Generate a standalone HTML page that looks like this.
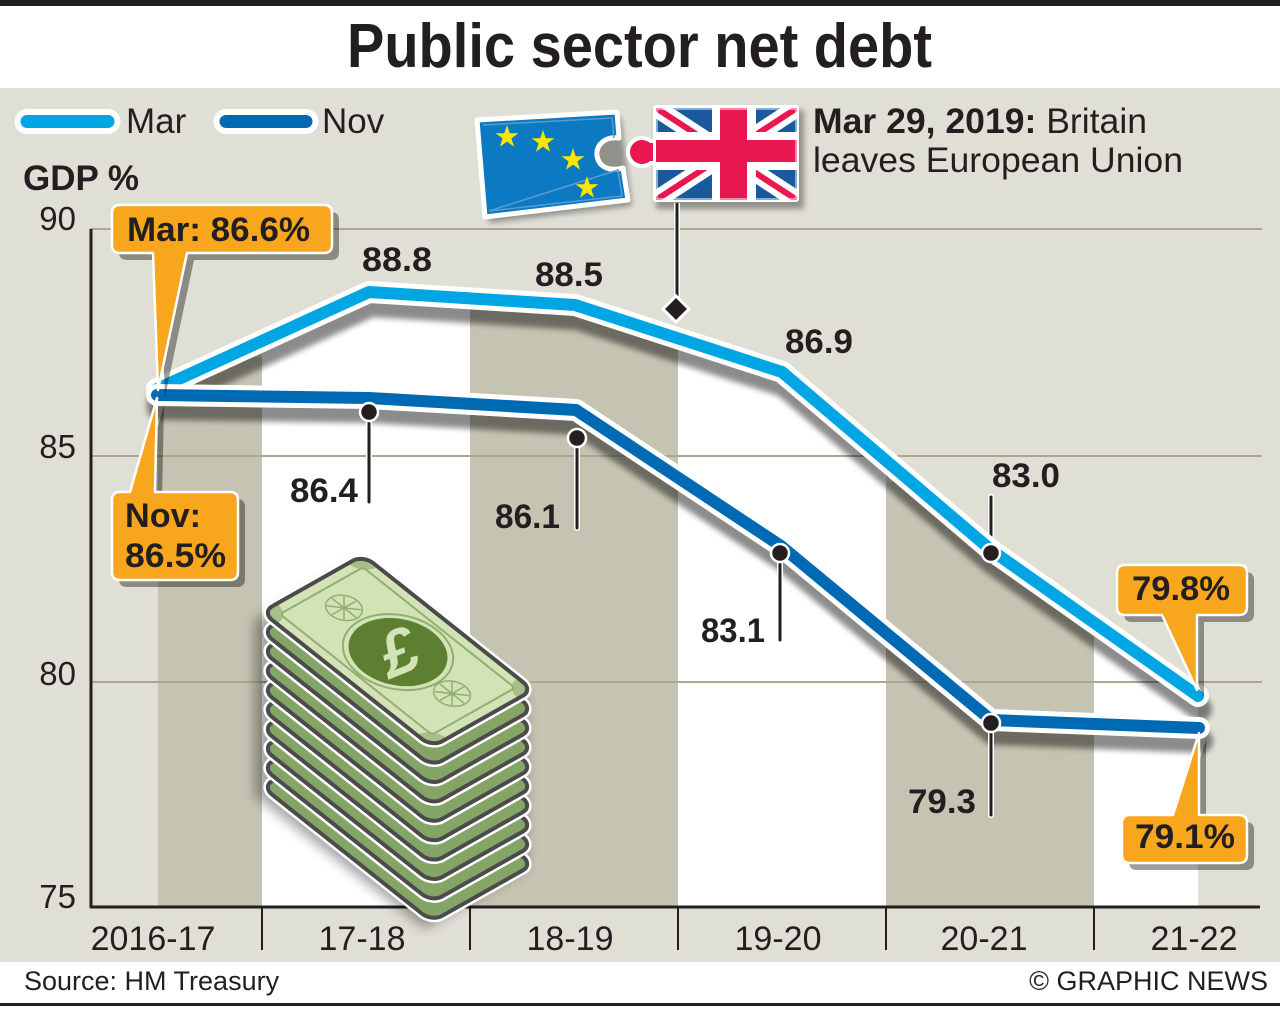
<!DOCTYPE html>
<html><head><meta charset="utf-8"><style>
html,body{margin:0;padding:0;background:#fff;}
svg{display:block;}
text{font-family:"Liberation Sans",Arial,sans-serif;fill:#231f20;}
.b{font-weight:bold;}
</style></head><body>
<svg width="1280" height="1016" viewBox="0 0 1280 1016" xmlns="http://www.w3.org/2000/svg">
<defs>
 <filter id="blur" x="-20%" y="-20%" width="140%" height="160%"><feGaussianBlur stdDeviation="3"/></filter>
 <filter id="blur6" x="-30%" y="-30%" width="160%" height="160%"><feGaussianBlur stdDeviation="6"/></filter>
 <clipPath id="under"><path d="M157,388 L369,292 L575,305 L782,372 L991,550 L1198,696 L1198,907 L157,907 Z"/></clipPath>
 <clipPath id="ukclip"><rect x="656" y="108" width="141" height="92"/></clipPath>
 <clipPath id="billclip"><rect x="0" y="0" width="170" height="101" rx="10"/></clipPath>
 <polygon id="star" points="0,-12 2.7,-3.72 11.41,-3.71 4.37,1.42 7.05,9.71 0,4.6 -7.05,9.71 -4.37,1.42 -11.41,-3.71 -2.7,-3.72" fill="#ffe600"/>
</defs>

<rect width="1280" height="1016" fill="#fff"/>
<rect x="0" y="0" width="1280" height="6" fill="#231f20"/>
<text x="347" y="67" class="b" font-size="62" textLength="585" lengthAdjust="spacingAndGlyphs">Public sector net debt</text>

<rect x="0" y="88" width="1280" height="874" fill="#e0dfd6"/>

<!-- bands -->
<g clip-path="url(#under)">
 <rect x="158" y="357" width="104" height="550" fill="#c5c3b1"/>
 <rect x="262" y="200" width="208" height="707" fill="#fff"/>
 <rect x="470" y="200" width="208" height="707" fill="#c5c3b1"/>
 <rect x="678" y="200" width="208" height="707" fill="#fff"/>
 <rect x="886" y="482" width="208" height="425" fill="#c5c3b1"/>
 <rect x="1094" y="200" width="104" height="707" fill="#fff"/>
</g>

<!-- gridlines -->
<g stroke="#a8a890" stroke-width="2">
 <line x1="90" y1="229" x2="1262" y2="229"/>
 <line x1="90" y1="456" x2="1262" y2="456"/>
 <line x1="90" y1="682" x2="1262" y2="682"/>
</g>

<!-- axes -->
<g stroke="#231f20">
 <line x1="91" y1="229" x2="91" y2="908" stroke-width="3"/>
 <line x1="90" y1="907" x2="1260" y2="907" stroke-width="3"/>
 <line x1="262" y1="907" x2="262" y2="950" stroke-width="2"/>
 <line x1="470" y1="907" x2="470" y2="950" stroke-width="2"/>
 <line x1="678" y1="907" x2="678" y2="950" stroke-width="2"/>
 <line x1="886" y1="907" x2="886" y2="950" stroke-width="2"/>
 <line x1="1094" y1="907" x2="1094" y2="950" stroke-width="2"/>
</g>

<!-- y labels -->
<g font-size="33" text-anchor="end">
 <text x="76" y="230">90</text>
 <text x="76" y="458">85</text>
 <text x="76" y="685">80</text>
 <text x="76" y="908">75</text>
</g>
<!-- x labels -->
<g font-size="34" text-anchor="middle">
 <text x="153" y="950">2016-17</text>
 <text x="362" y="950">17-18</text>
 <text x="570" y="950">18-19</text>
 <text x="778" y="950">19-20</text>
 <text x="984" y="950">20-21</text>
 <text x="1194" y="950">21-22</text>
</g>

<!-- legend -->
<line x1="27" y1="121.5" x2="108" y2="121.5" stroke="#fff" stroke-width="25" stroke-linecap="round"/>
<line x1="27" y1="121.5" x2="108" y2="121.5" stroke="#00a6e4" stroke-width="13" stroke-linecap="round"/>
<text x="126" y="133" font-size="35">Mar</text>
<line x1="226" y1="121.5" x2="306" y2="121.5" stroke="#fff" stroke-width="25" stroke-linecap="round"/>
<line x1="226" y1="121.5" x2="306" y2="121.5" stroke="#0069b4" stroke-width="13" stroke-linecap="round"/>
<text x="322" y="133" font-size="35">Nov</text>
<text x="23" y="190" font-size="35" class="b">GDP %</text>

<!-- Brexit note -->
<text x="813" y="133" font-size="35" textLength="334" lengthAdjust="spacingAndGlyphs"><tspan font-weight="bold">Mar 29, 2019:</tspan> Britain</text>
<text x="813" y="172" font-size="35" textLength="370" lengthAdjust="spacingAndGlyphs">leaves European Union</text>

<!-- flags shadow -->
<g filter="url(#blur)" opacity="0.35" transform="translate(4,6)">
 <polygon points="477,120 617,112 628,200 485,217" fill="#000"/>
 <rect x="652" y="104" width="148" height="99" fill="#000"/>
</g>
<!-- EU piece -->
<path d="M477,120 L617,112 L619,138 C605,136 596,145 597,155 C598,166 608,172 623,168 L628,200 L485,217 Z" fill="#0b7ac2" stroke="#fff" stroke-width="5" stroke-linejoin="round"/>
<path d="M483,125 L612,118 L614,138 M618,170 L622,196 L489,211 Z" fill="none" stroke="#5a9ad0" stroke-width="1.5"/>
<use href="#star" x="507" y="137"/>
<use href="#star" x="543" y="142"/>
<use href="#star" x="573" y="160"/>
<use href="#star" x="587" y="188"/>
<!-- UK piece -->
<circle cx="642" cy="152" r="14" fill="#e8174f" stroke="#fff" stroke-width="4"/>
<rect x="640" y="143" width="18" height="18" fill="#e8174f"/>
<rect x="653" y="105" width="146" height="97" rx="3" fill="#fff"/>
<g clip-path="url(#ukclip)">
 <rect x="656" y="108" width="141" height="92" fill="#1a5a9c"/>
 <line x1="656" y1="108" x2="797" y2="200" stroke="#fff" stroke-width="18"/>
 <line x1="797" y1="108" x2="656" y2="200" stroke="#fff" stroke-width="18"/>
 <line x1="656" y1="108" x2="797" y2="200" stroke="#e8174f" stroke-width="6"/>
 <line x1="797" y1="108" x2="656" y2="200" stroke="#e8174f" stroke-width="6"/>
 <rect x="712" y="108" width="44" height="92" fill="#fff"/>
 <rect x="656" y="132" width="141" height="38" fill="#fff"/>
 <rect x="720" y="108" width="27" height="92" fill="#e8174f"/>
 <rect x="656" y="140" width="141" height="22" fill="#e8174f"/>
 <rect x="656" y="108" width="141" height="92" fill="none" stroke="#ffffff" stroke-opacity="0.5" stroke-width="4"/>
</g>
<rect x="656" y="140" width="4" height="22" fill="#e8174f"/>

<!-- Brexit leader -->
<line x1="677" y1="203" x2="677" y2="300" stroke="#fff" stroke-width="6"/>
<line x1="677" y1="203" x2="677" y2="300" stroke="#231f20" stroke-width="3"/>
<polygon points="676,296 689,309 676,322 663,309" fill="#231f20" stroke="#fff" stroke-width="3"/>

<!-- money stack -->
<polygon points="262,612 363,555 533,690 533,860 432,921 262,788" fill="#000" opacity="0.35" filter="url(#blur6)" transform="translate(-7,8)"/>
<g id="stack">
 <g transform="translate(0,174.6)"><g transform="matrix(1,0.794,1,-0.564,262,612)"><rect width="170" height="101" rx="10" fill="none" stroke="#fff" stroke-width="9" vector-effect="non-scaling-stroke"/><rect width="170" height="101" rx="10" fill="#84a566" stroke="#4b4b4b" stroke-width="4" vector-effect="non-scaling-stroke"/></g></g>
 <g transform="translate(0,155.2)"><g transform="matrix(1,0.794,1,-0.564,262,612)"><rect width="170" height="101" rx="10" fill="none" stroke="#fff" stroke-width="9" vector-effect="non-scaling-stroke"/><rect width="170" height="101" rx="10" fill="#84a566" stroke="#4b4b4b" stroke-width="4" vector-effect="non-scaling-stroke"/></g></g>
 <g transform="translate(0,135.8)"><g transform="matrix(1,0.794,1,-0.564,262,612)"><rect width="170" height="101" rx="10" fill="none" stroke="#fff" stroke-width="9" vector-effect="non-scaling-stroke"/><rect width="170" height="101" rx="10" fill="#84a566" stroke="#4b4b4b" stroke-width="4" vector-effect="non-scaling-stroke"/></g></g>
 <g transform="translate(0,116.4)"><g transform="matrix(1,0.794,1,-0.564,262,612)"><rect width="170" height="101" rx="10" fill="none" stroke="#fff" stroke-width="9" vector-effect="non-scaling-stroke"/><rect width="170" height="101" rx="10" fill="#84a566" stroke="#4b4b4b" stroke-width="4" vector-effect="non-scaling-stroke"/></g></g>
 <g transform="translate(0,97)"><g transform="matrix(1,0.794,1,-0.564,262,612)"><rect width="170" height="101" rx="10" fill="none" stroke="#fff" stroke-width="9" vector-effect="non-scaling-stroke"/><rect width="170" height="101" rx="10" fill="#84a566" stroke="#4b4b4b" stroke-width="4" vector-effect="non-scaling-stroke"/></g></g>
 <g transform="translate(0,77.6)"><g transform="matrix(1,0.794,1,-0.564,262,612)"><rect width="170" height="101" rx="10" fill="none" stroke="#fff" stroke-width="9" vector-effect="non-scaling-stroke"/><rect width="170" height="101" rx="10" fill="#84a566" stroke="#4b4b4b" stroke-width="4" vector-effect="non-scaling-stroke"/></g></g>
 <g transform="translate(0,58.2)"><g transform="matrix(1,0.794,1,-0.564,262,612)"><rect width="170" height="101" rx="10" fill="none" stroke="#fff" stroke-width="9" vector-effect="non-scaling-stroke"/><rect width="170" height="101" rx="10" fill="#84a566" stroke="#4b4b4b" stroke-width="4" vector-effect="non-scaling-stroke"/></g></g>
 <g transform="translate(0,38.8)"><g transform="matrix(1,0.794,1,-0.564,262,612)"><rect width="170" height="101" rx="10" fill="none" stroke="#fff" stroke-width="9" vector-effect="non-scaling-stroke"/><rect width="170" height="101" rx="10" fill="#84a566" stroke="#4b4b4b" stroke-width="4" vector-effect="non-scaling-stroke"/></g></g>
 <g transform="translate(0,19.4)"><g transform="matrix(1,0.794,1,-0.564,262,612)"><rect width="170" height="101" rx="10" fill="none" stroke="#fff" stroke-width="9" vector-effect="non-scaling-stroke"/><rect width="170" height="101" rx="10" fill="#84a566" stroke="#4b4b4b" stroke-width="4" vector-effect="non-scaling-stroke"/></g></g>
 <!-- top bill -->
 <g transform="matrix(1,0.794,1,-0.564,262,612)">
  <rect width="170" height="101" rx="10" fill="none" stroke="#fff" stroke-width="9" vector-effect="non-scaling-stroke"/>
  <rect width="170" height="101" rx="10" fill="#d4e3b6"/>
  <g clip-path="url(#billclip)">
   <circle cx="0" cy="0" r="15" fill="#a7bf88"/>
   <circle cx="170" cy="0" r="15" fill="#a7bf88"/>
   <circle cx="0" cy="101" r="15" fill="#a7bf88"/>
   <circle cx="170" cy="101" r="15" fill="#a7bf88"/>
  </g>
  <rect x="9" y="9" width="152" height="83" rx="3" fill="none" stroke="#8fb070" stroke-width="2" vector-effect="non-scaling-stroke"/>
  <circle cx="86" cy="50" r="39" fill="none" stroke="#8fb070" stroke-width="2" vector-effect="non-scaling-stroke"/>
  <circle cx="86" cy="50" r="35" fill="#5c7f31"/>
  <g stroke="#8fb070" stroke-width="1.5" fill="none" vector-effect="non-scaling-stroke">
   <circle cx="31" cy="51" r="13" vector-effect="non-scaling-stroke"/>
   <circle cx="139" cy="51" r="13" vector-effect="non-scaling-stroke"/>
   <path d="M19,51 H43 M31,39 V63 M22.5,42.5 L39.5,59.5 M39.5,42.5 L22.5,59.5 M127,51 H151 M139,39 V63 M130.5,42.5 L147.5,59.5 M147.5,42.5 L130.5,59.5" vector-effect="non-scaling-stroke"/>
  </g>
  <rect width="170" height="101" rx="10" fill="none" stroke="#4b4b4b" stroke-width="4" vector-effect="non-scaling-stroke"/>
 </g>
 <text x="398" y="674" font-size="64" font-style="italic" font-weight="bold" text-anchor="middle" fill="#d4e3b6" style="fill:#d4e3b6" transform="rotate(-22 398 652)">£</text>
</g>

<!-- line shadows -->
<g filter="url(#blur)" opacity="0.45" transform="translate(2,13)" fill="none" stroke="#000" stroke-width="24" stroke-linejoin="round" stroke-linecap="round">
 <path d="M157,389 L369,292 L575,305 L782,372 L991,550 L1198,696"/>
 <path d="M157,395 L369,398 L576,410 L781,546 L991,720 L1199,728"/>
</g>

<!-- leaders (below lines) -->
<g stroke-linecap="round">
 <g stroke="#fff" stroke-width="6">
  <line x1="369" y1="412" x2="369" y2="502"/>
  <line x1="577" y1="438" x2="577" y2="528"/>
  <line x1="780" y1="553" x2="780" y2="640"/>
  <line x1="991" y1="723" x2="991" y2="815"/>
  <line x1="991" y1="553" x2="991" y2="497"/>
 </g>
 <g stroke="#231f20" stroke-width="3">
  <line x1="369" y1="412" x2="369" y2="502"/>
  <line x1="577" y1="438" x2="577" y2="528"/>
  <line x1="780" y1="553" x2="780" y2="640"/>
  <line x1="991" y1="723" x2="991" y2="815"/>
  <line x1="991" y1="553" x2="991" y2="497"/>
 </g>
</g>

<!-- Mar line -->
<path d="M157,389 L369,292 L575,305 L782,372 L991,550 L1198,696" fill="none" stroke="#fff" stroke-width="22" stroke-linejoin="round" stroke-linecap="round"/>
<path d="M157,389 L369,292 L575,305 L782,372 L991,550 L1198,696" fill="none" stroke="#00a6e4" stroke-width="12" stroke-linejoin="round" stroke-linecap="round"/>
<!-- Nov line -->
<path d="M157,395 L369,398 L576,410 L781,546 L991,720 L1199,728" fill="none" stroke="#fff" stroke-width="22" stroke-linejoin="round" stroke-linecap="round"/>
<path d="M157,395 L369,398 L576,410 L781,546 L991,720 L1199,728" fill="none" stroke="#0069b4" stroke-width="12" stroke-linejoin="round" stroke-linecap="round"/>

<!-- dots -->
<g fill="#231f20" stroke="#fff" stroke-width="2.5">
 <circle cx="369" cy="412" r="9"/>
 <circle cx="577" cy="438" r="9"/>
 <circle cx="780" cy="553" r="9"/>
 <circle cx="991" cy="723" r="9"/>
 <circle cx="991" cy="553" r="9"/>
</g>

<!-- data labels -->
<g font-size="34" font-weight="bold">
 <text x="362" y="271" textLength="70" lengthAdjust="spacingAndGlyphs">88.8</text>
 <text x="535" y="286" textLength="68" lengthAdjust="spacingAndGlyphs">88.5</text>
 <text x="785" y="353" textLength="68" lengthAdjust="spacingAndGlyphs">86.9</text>
 <text x="992" y="487" textLength="68" lengthAdjust="spacingAndGlyphs">83.0</text>
 <text x="290" y="502" textLength="68" lengthAdjust="spacingAndGlyphs">86.4</text>
 <text x="495" y="528" textLength="65" lengthAdjust="spacingAndGlyphs">86.1</text>
 <text x="701" y="642" textLength="64" lengthAdjust="spacingAndGlyphs">83.1</text>
 <text x="908" y="813" textLength="68" lengthAdjust="spacingAndGlyphs">79.3</text>
</g>

<!-- callouts -->
<g fill="#000" opacity="0.38" transform="translate(7,7)">
 <path d="M120,205 H324 Q332,205 332,213 V245 Q332,253 324,253 H187 L158,390 L153,253 H120 Q112,253 112,245 V213 Q112,205 120,205 Z"/>
 <path d="M120,492 H130 L157,398 L155,492 H230 Q238,492 238,500 V572 Q238,580 230,580 H120 Q112,580 112,572 V500 Q112,492 120,492 Z"/>
 <path d="M1125,565 H1239 Q1247,565 1247,573 V607 Q1247,615 1239,615 H1197 L1197,690 L1162,615 H1125 Q1117,615 1117,607 V573 Q1117,565 1125,565 Z"/>
 <path d="M1130,815 H1173 L1199,733 L1199,815 H1239 Q1247,815 1247,823 V855 Q1247,863 1239,863 H1130 Q1122,863 1122,855 V823 Q1122,815 1130,815 Z"/>
</g>
<g fill="#f8a61e" stroke="#fff" stroke-width="2.5" stroke-linejoin="round">
 <path d="M120,205 H324 Q332,205 332,213 V245 Q332,253 324,253 H187 L158,390 L153,253 H120 Q112,253 112,245 V213 Q112,205 120,205 Z"/>
 <path d="M120,492 H130 L157,398 L155,492 H230 Q238,492 238,500 V572 Q238,580 230,580 H120 Q112,580 112,572 V500 Q112,492 120,492 Z"/>
 <path d="M1125,565 H1239 Q1247,565 1247,573 V607 Q1247,615 1239,615 H1197 L1197,690 L1162,615 H1125 Q1117,615 1117,607 V573 Q1117,565 1125,565 Z"/>
 <path d="M1130,815 H1173 L1199,733 L1199,815 H1239 Q1247,815 1247,823 V855 Q1247,863 1239,863 H1130 Q1122,863 1122,855 V823 Q1122,815 1130,815 Z"/>
</g>
<g font-size="34" font-weight="bold">
 <text x="127" y="241" textLength="183" lengthAdjust="spacingAndGlyphs">Mar: 86.6%</text>
 <text x="125" y="527" textLength="76" lengthAdjust="spacingAndGlyphs">Nov:</text>
 <text x="125" y="567" textLength="101" lengthAdjust="spacingAndGlyphs">86.5%</text>
 <text x="1132" y="600" textLength="98" lengthAdjust="spacingAndGlyphs">79.8%</text>
 <text x="1135" y="848" textLength="100" lengthAdjust="spacingAndGlyphs">79.1%</text>
</g>

<!-- footer -->
<text x="24" y="990" font-size="27">Source: HM Treasury</text>
<text x="1268" y="990" font-size="27" text-anchor="end">© GRAPHIC NEWS</text>
<rect x="0" y="1003" width="1280" height="3" fill="#231f20"/>
</svg>
</body></html>
